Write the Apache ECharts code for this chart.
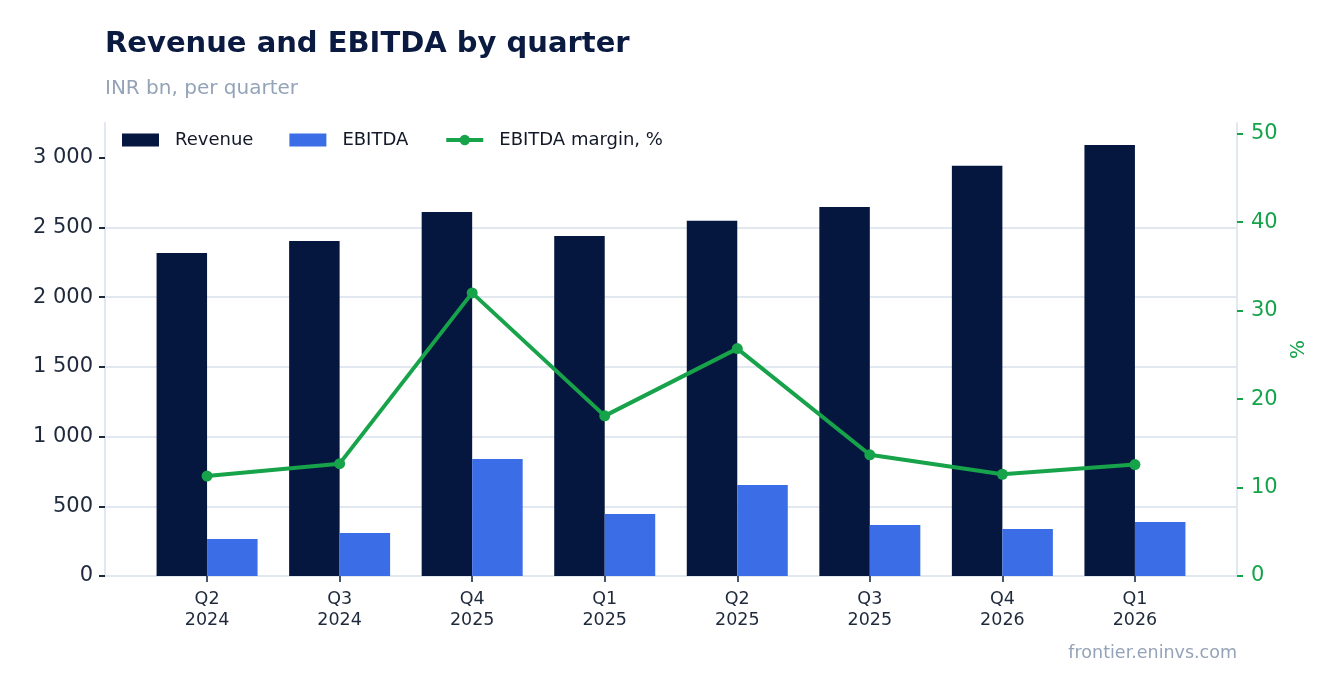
<!DOCTYPE html>
<html><head><meta charset="utf-8">
<script src="https://cdn.jsdelivr.net/npm/echarts@6/dist/echarts.min.js"></script>
<style>html,body{margin:0;padding:0;background:#fff}#c{width:1336px;height:693px}</style>
</head><body><div id="c"></div>
<script>
const categories = ['Q2\n2024','Q3\n2024','Q4\n2025','Q1\n2025','Q2\n2025','Q3\n2025','Q4\n2026','Q1\n2026'];
const revenue = [2318, 2404, 2612, 2440, 2548, 2648, 2943, 3093];
const ebitda = [266, 309, 840, 445, 653, 366, 337, 388];
const margin = [11.3, 12.7, 32.0, 18.1, 25.7, 13.7, 11.5, 12.6];
const leftTicks = [0, 500, 1000, 1500, 2000, 2500, 3000];
const rightTicks = [0, 10, 20, 30, 40, 50];

const FONT = 'DejaVu Sans';
const idx = categories.map((_, i) => i);
const fmt = v => String(v).replace(/\B(?=(\d{3})+(?!\d))/g, ' ');
const chart = echarts.init(document.getElementById('c'));
chart.setOption({
  animation: false,
  textStyle: {fontFamily: FONT},
  title: [
    {text: 'Revenue and EBITDA by quarter', left: 105, top: 30, padding: 0,
     textStyle: {fontFamily: FONT, fontSize: 29, fontWeight: 'bold', color: '#0a1a40'}},
    {text: 'INR bn, per quarter', left: 105, top: 79, padding: 0,
     textStyle: {fontFamily: FONT, fontSize: 20, fontWeight: 'normal', color: '#94a3b8'}}
  ],
  graphic: [{type: 'text', right: 99, top: 644,
    style: {text: 'frontier.eninvs.com', font: '17.5px "DejaVu Sans"', fill: '#94a3b8'}}],
  legend: {left: 122, top: 131, padding: 0, itemWidth: 37, itemHeight: 13, itemGap: 36,
    textStyle: {fontFamily: FONT, fontSize: 18, color: '#111827', padding: [0, 0, 0, 11]},
    data: [{name: 'Revenue', icon: 'rect'}, {name: 'EBITDA', icon: 'rect'},
           {name: 'EBITDA margin, %', lineStyle: {width: 4, color: '#16a34a'}}]},
  grid: {left: 105, right: 99, top: 123, bottom: 117},
  xAxis: {type: 'value', min: -0.77, max: 7.77,
    axisLine: {show: true, lineStyle: {color: '#e2e8f0', width: 2}},
    axisTick: {show: true, customValues: idx, length: 6, lineStyle: {color: '#475569', width: 2}},
    axisLabel: {customValues: idx, formatter: v => categories[Math.round(v)], fontFamily: FONT,
      fontSize: 17.5, color: '#1e293b', lineHeight: 21, margin: 13},
    splitLine: {show: false}},
  yAxis: [
    {type: 'value', min: 0, max: 3250, interval: 500, position: 'left',
     axisLine: {show: true, onZero: false, lineStyle: {color: '#e2e8f0', width: 2}},
     axisTick: {show: true, customValues: leftTicks, length: 6, lineStyle: {color: '#1e293b', width: 2}},
     axisLabel: {customValues: leftTicks, formatter: fmt, fontFamily: FONT, fontSize: 21, color: '#1e293b', margin: 12, padding: [4, 0, 0, 0]},
     splitLine: {show: true, showMaxLine: false, lineStyle: {color: '#e2e8f0', width: 2}}},
    {type: 'value', min: 0, max: 51.2, interval: 10, position: 'right',
     name: '%', nameLocation: 'middle', nameGap: 51, nameRotate: 90,
     nameTextStyle: {color: '#16a34a', fontFamily: FONT, fontSize: 20},
     axisLine: {show: true, onZero: false, lineStyle: {color: '#e2e8f0', width: 2}},
     axisTick: {show: true, customValues: rightTicks, length: 6, lineStyle: {color: '#16a34a', width: 2}},
     axisLabel: {customValues: rightTicks, fontFamily: FONT, fontSize: 21, color: '#16a34a', margin: 14, padding: [4, 0, 0, 0]},
     splitLine: {show: false}}
  ],
  series: [
    {name: 'Revenue', type: 'bar', barWidth: 50.5, barGap: '0%', itemStyle: {color: '#05173f'},
     data: revenue.map((v, i) => [i, v])},
    {name: 'EBITDA', type: 'bar', barWidth: 50.5, barGap: '0%', itemStyle: {color: '#3b6de6'},
     data: ebitda.map((v, i) => [i, v])},
    {name: 'EBITDA margin, %', type: 'line', yAxisIndex: 1, symbol: 'circle', symbolSize: 11,
     lineStyle: {color: '#16a34a', width: 4}, itemStyle: {color: '#16a34a'},
     data: margin.map((v, i) => [i, v])}
  ]
});
</script></body></html>
